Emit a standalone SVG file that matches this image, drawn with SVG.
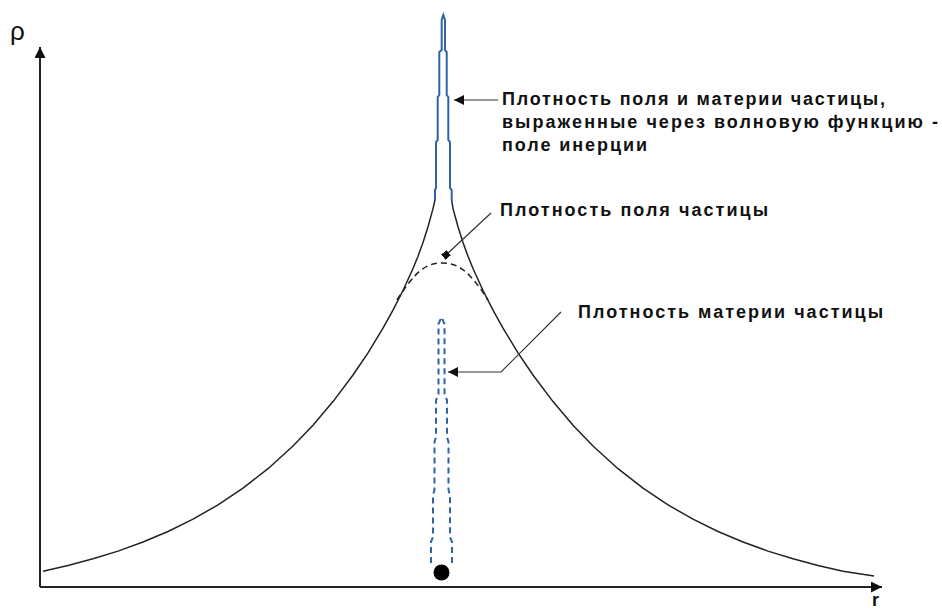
<svg xmlns="http://www.w3.org/2000/svg" width="942" height="610" viewBox="0 0 942 610">
<defs>
<style>
.lbl{font-family:"Liberation Sans",Arial,sans-serif;font-weight:bold;font-size:18px;fill:#111}
.axis{stroke:#222;stroke-width:2;fill:none}
.curve{stroke:#222;stroke-width:1.5;fill:none;stroke-linejoin:round}
.blue{stroke:#2f63a6;stroke-width:2;fill:none}
.lead{stroke:#333;stroke-width:1.2;fill:none}
</style>
<marker id="ah" viewBox="0 0 10 10" refX="10" refY="5" markerWidth="10" markerHeight="10" markerUnits="userSpaceOnUse" orient="auto">
<path d="M0,0 L10,5 L0,10 Z" fill="#111"/>
</marker>
<marker id="axh" viewBox="0 0 10 10" refX="10" refY="5" markerWidth="11" markerHeight="11" markerUnits="userSpaceOnUse" orient="auto">
<path d="M0,0 L10,5 L0,10 Z" fill="#111"/>
</marker>
<marker id="sq" viewBox="0 0 10 10" refX="5" refY="5" markerWidth="7" markerHeight="7" markerUnits="userSpaceOnUse" orient="auto">
<rect x="0" y="0" width="10" height="10" fill="#111"/>
</marker>
</defs>
<rect width="942" height="610" fill="#fff"/>
<g id="axes">
<line class="axis" x1="40" y1="587" x2="40" y2="47" marker-end="url(#axh)"/>
<line class="axis" x1="40" y1="587" x2="882" y2="587" marker-end="url(#axh)"/>
<text x="10" y="40" style="font-family:'Liberation Sans',Arial,sans-serif;font-size:26px;fill:#111">ρ</text>
<text x="872" y="606" style="font-family:'Liberation Sans',Arial,sans-serif;font-weight:bold;font-size:18px;fill:#111">r</text>
</g>
<g id="field-curve">
<polyline class="curve" points="43,571.2 68,565.5 93,558.8 118,551.1 143,542 168,531.5 193,519.2 218,504.9 243,488.2 268,468.7 293,446 313,425.2 333,401.6 353,375 368,352.8 383,328.2 393,310.2 403,290.5 413,268.5 418,256.2 423,242.5 428,226.8 433,208.6 435,200"/>
<polyline class="curve" points="451.7,200 453,208.6 458,226.8 463,242.5 468,256.2 473,268.5 483,290.5 493,310.2 503,328.2 518,352.8 533,375 553,401.6 573,425.2 593,446 618,468.7 643,488.2 668,504.9 693,519.2 718,531.5 743,542 768,551.1 793,558.8 818,565.5 843,571.2 874,576"/>
<path class="curve" d="M397,300 C415,272 425,263 442,263 C459,263 470,272 488,300" stroke-dasharray="6 4"/>
</g>
<g id="inertia-spike">
<path class="blue" d="M435,200 L435,190 L436,188 L436,142 L437.7,140 L437.7,97 L439.3,95 L439.3,52 L441.7,50 L441.7,20 L443.3,15 L445,20 L445,50 L446.7,52 L446.7,95 L448.3,97 L448.3,140 L450,142 L450,188 L451.7,190 L451.7,200"/>
</g>
<g id="matter-spike">
<path class="blue" stroke-dasharray="6 4" d="M431,563 L431,542 L433,537 L433,495 L434.5,490 L434.5,442 L436,437 L436,400 L438.5,395 L438.5,324 L441.5,317 L444.5,324 L444.5,395 L447,400 L447,437 L448.5,442 L448.5,490 L450,495 L450,537 L452,542 L452,563"/>
<circle cx="441.5" cy="572.5" r="8" fill="#000"/>
</g>
<g id="connectors">
<line class="lead" x1="498" y1="100" x2="454" y2="100" marker-end="url(#ah)"/>
<line class="lead" x1="491" y1="213" x2="446" y2="255" marker-end="url(#sq)"/>
<polyline class="lead" points="561,312 501,372 448,372" marker-end="url(#ah)"/>
</g>
<g id="label-total">
<text class="lbl" x="502" y="105" textLength="383" lengthAdjust="spacing">Плотность поля и материи частицы,</text>
<text class="lbl" x="502" y="128" textLength="436" lengthAdjust="spacing">выраженные через волновую функцию -</text>
<text class="lbl" x="502" y="151" textLength="145" lengthAdjust="spacing">поле инерции</text>
</g>
<g id="label-field">
<text class="lbl" x="500" y="216" textLength="268" lengthAdjust="spacing">Плотность поля частицы</text>
</g>
<g id="label-matter">
<text class="lbl" x="578" y="318" textLength="305" lengthAdjust="spacing">Плотность материи частицы</text>
</g>
</svg>
